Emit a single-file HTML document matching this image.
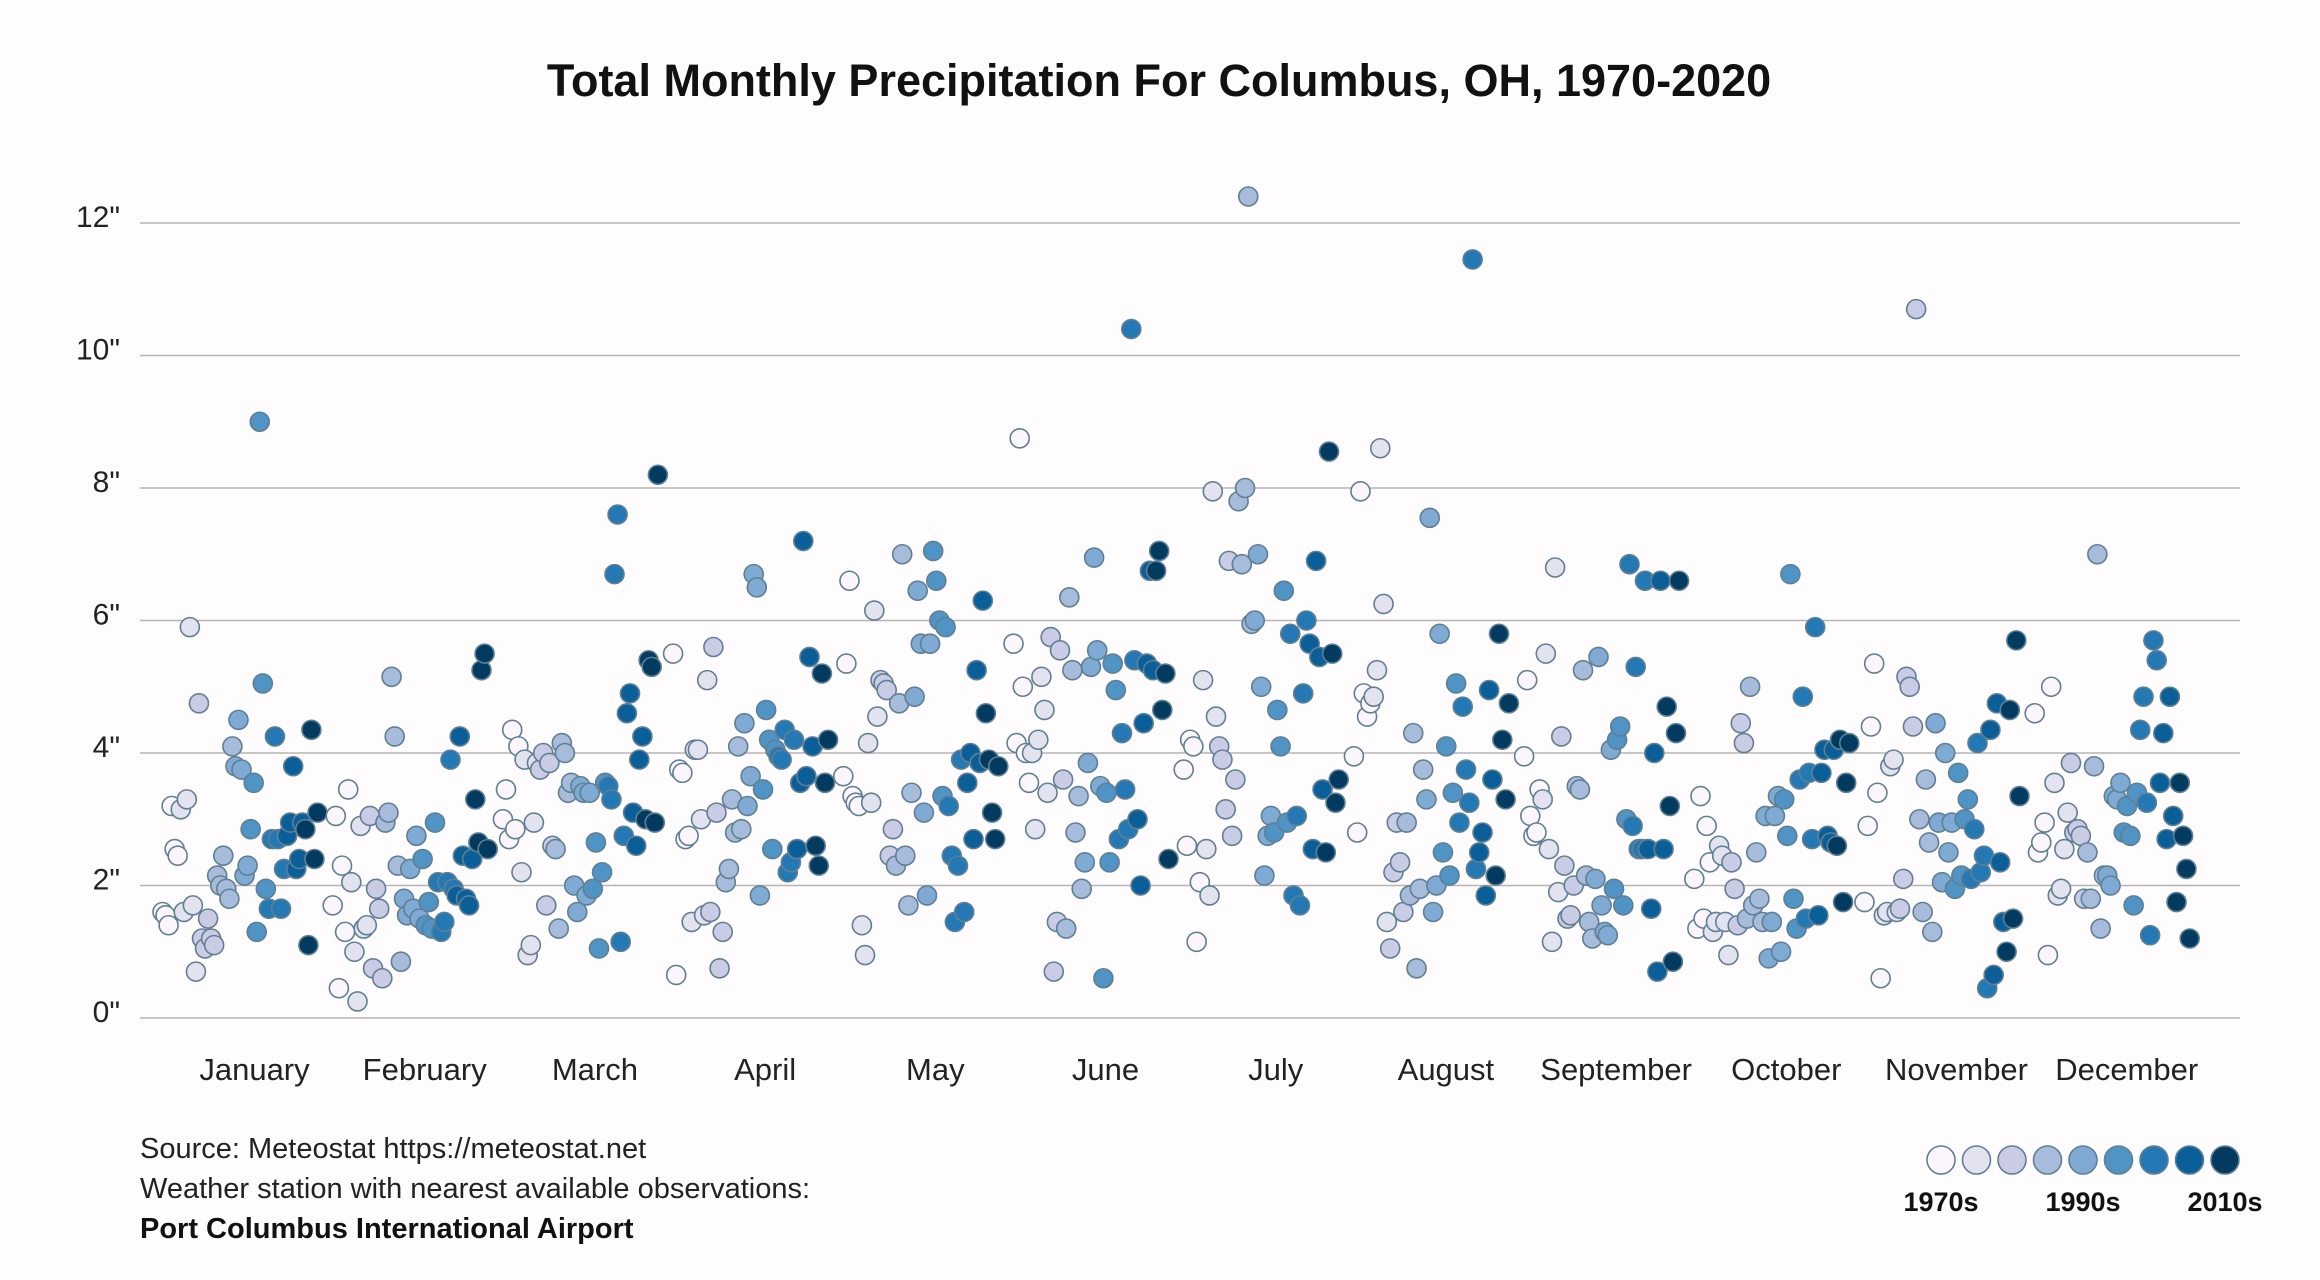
<!DOCTYPE html>
<html><head><meta charset="utf-8"><style>
body{margin:0;background:#fff;}
svg{display:block;font-family:"Liberation Sans",sans-serif;}
</style></head><body>
<svg id="chart" width="2320" height="1280" viewBox="0 0 2320 1280">
<rect width="2320" height="1280" fill="#fefcfd"/>
<text x="1159" y="96" text-anchor="middle" font-size="45" font-weight="bold" fill="#111">Total Monthly Precipitation For Columbus, OH, 1970-2020</text>
<g id="grid"></g>
<g id="ylabels"></g>
<g id="points"></g>
<g id="xlabels"></g>
<text x="140" y="1158" font-size="29" fill="#222">Source: Meteostat https://meteostat.net</text>
<text x="140" y="1198" font-size="29" fill="#222">Weather station with nearest available observations:</text>
<text x="140" y="1238" font-size="29" font-weight="bold" fill="#111">Port Columbus International Airport</text>
<g id="legend"></g>
</svg>
<script>
const months = ["January","February","March","April","May","June","July","August","September","October","November","December"];
const yTicks = [0,2,4,6,8,10,12];
const legendLabels = ["1970s","","1990s","","2010s"];
const colors = ['#fbf6fb','#e3e2ef','#c9cce4','#a7bcdb','#7eaad3','#4f94c4','#2479b4','#0a5f99','#023b5f'];
const jan = [1.6,1.55,1.4,3.2,2.55,2.45,3.15,1.6,3.3,5.9,1.7,0.7,4.75,1.2,1.05,1.5,1.2,1.1,2.15,2.0,2.45,1.95,1.8,4.1,3.8,4.5,3.75,2.15,2.3,2.85,3.55,1.3,9.0,5.05,1.95,1.65,2.7,4.25,2.7,1.65,2.25,2.75,2.95,3.8,2.25,2.4,2.95,2.85,1.1,4.35,2.4,3.1];
const feb = [1.7,3.05,0.45,2.3,1.3,3.45,2.05,1.0,0.25,2.9,1.35,1.4,3.05,0.75,1.95,1.65,0.6,2.95,3.1,5.15,4.25,2.3,0.85,1.8,1.55,2.25,1.65,2.75,1.5,2.4,1.4,1.75,1.35,2.95,2.05,1.3,1.45,2.05,3.9,1.95,1.85,4.25,2.45,1.8,1.7,2.4,3.3,2.65,5.25,5.5,2.55];
const mar = [3.0,3.45,2.7,4.35,2.85,4.1,2.2,3.9,0.95,1.1,2.95,3.85,3.75,4.0,1.7,3.85,2.6,2.55,1.35,4.15,4.0,3.4,3.55,2.0,1.6,3.5,3.4,1.85,3.4,1.95,2.65,1.05,2.2,3.55,3.5,3.3,6.7,7.6,1.15,2.75,4.6,4.9,3.1,2.6,3.9,4.25,3.0,5.4,5.3,2.95,8.2];
const apr = [5.5,0.65,3.75,3.7,2.7,2.75,1.45,4.05,4.05,3.0,1.55,5.1,1.6,5.6,3.1,0.75,1.3,2.05,2.25,3.3,2.8,4.1,2.85,4.45,3.2,3.65,6.7,6.5,1.85,3.45,4.65,4.2,2.55,4.05,3.95,3.9,4.35,2.2,2.35,4.2,2.55,3.55,7.2,3.65,5.45,4.1,2.6,2.3,5.2,3.55,4.2];
const may = [3.65,5.35,6.6,3.35,3.25,3.2,1.4,0.95,4.15,3.25,6.15,4.55,5.1,5.05,4.95,2.45,2.85,2.3,4.75,7.0,2.45,1.7,3.4,4.85,6.45,5.65,3.1,1.85,5.65,7.05,6.6,6.0,3.35,5.9,3.2,2.45,1.45,2.3,3.9,1.6,3.55,4.0,2.7,5.25,3.85,6.3,4.6,3.9,3.1,2.7,3.8];
const jun = [5.65,4.15,8.75,5.0,4.0,3.55,4.0,2.85,4.2,5.15,4.65,3.4,5.75,0.7,1.45,5.55,3.6,1.35,6.35,5.25,2.8,3.35,1.95,2.35,3.85,5.3,6.95,5.55,3.5,0.6,3.4,2.35,5.35,4.95,2.7,4.3,3.45,2.85,10.4,5.4,3.0,2.0,4.45,5.35,6.75,5.25,6.75,7.05,4.65,5.2,2.4];
const jul = [3.75,2.6,4.2,4.1,1.15,2.05,5.1,2.55,1.85,7.95,4.55,4.1,3.9,3.15,6.9,2.75,3.6,7.8,6.85,8.0,12.4,5.95,6.0,7.0,5.0,2.15,2.75,3.05,2.8,4.65,4.1,6.45,2.95,5.8,1.85,3.05,1.7,4.9,6.0,5.65,2.55,6.9,5.45,3.45,2.5,8.55,5.5,3.25,3.6];
const aug = [3.95,2.8,7.95,4.9,4.55,4.75,4.85,5.25,8.6,6.25,1.45,1.05,2.2,2.95,2.35,1.6,2.95,1.85,4.3,0.75,1.95,3.75,3.3,7.55,1.6,2.0,5.8,2.5,4.1,2.15,3.4,5.05,2.95,4.7,3.75,3.25,11.45,2.25,2.5,2.8,1.85,4.95,3.6,2.15,5.8,4.2,3.3,4.75];
const sep = [3.95,5.1,3.05,2.75,2.8,3.45,3.3,5.5,2.55,1.15,6.8,1.9,4.25,2.3,1.5,1.55,2.0,3.5,3.45,5.25,2.15,1.45,1.2,2.1,5.45,1.7,1.3,1.25,4.05,1.95,4.2,4.4,1.7,3.0,6.85,2.9,5.3,2.55,2.55,6.6,2.55,1.65,4.0,0.7,6.6,2.55,4.7,3.2,0.85,4.3,6.6];
const oct = [2.1,1.35,3.35,1.5,2.9,2.35,1.3,1.45,2.6,2.45,1.45,0.95,2.35,1.95,1.4,4.45,4.15,1.5,5.0,1.7,2.5,1.8,1.45,3.05,0.9,1.45,3.05,3.35,1.0,3.3,2.75,6.7,1.8,1.35,3.6,4.85,1.5,3.7,2.7,5.9,1.55,3.7,4.05,2.75,2.65,4.05,2.6,4.2,1.75,3.55,4.15];
const nov = [1.75,2.9,4.4,5.35,3.4,0.6,1.55,1.6,3.8,3.9,1.6,1.65,2.1,5.15,5.0,4.4,10.7,3.0,1.6,3.6,2.65,1.3,4.45,2.95,2.05,4.0,2.5,2.95,1.95,3.7,2.15,3.0,3.3,2.1,2.85,4.15,2.2,2.45,0.45,4.35,0.65,4.75,2.35,1.45,1.0,4.65,1.5,5.7,3.35];
const dec = [4.6,2.5,2.65,2.95,0.95,5.0,3.55,1.85,1.95,2.55,3.1,3.85,2.8,2.85,2.75,1.8,2.5,1.8,3.8,7.0,1.35,2.15,2.15,2.0,3.35,3.3,3.55,2.8,3.2,2.75,1.7,3.4,4.35,4.85,3.25,1.25,5.7,5.4,3.55,4.3,2.7,4.85,3.05,1.75,3.55,2.75,2.25,1.2];
const series = [jan,feb,mar,apr,may,jun,jul,aug,sep,oct,nov,dec];

const NS="http://www.w3.org/2000/svg";
function mk(tag,attrs,parent){const e=document.createElementNS(NS,tag);for(const k in attrs)e.setAttribute(k,attrs[k]);parent.appendChild(e);return e;}
const yScale = v => 1018 - v*66.25;
const monthCenter = m => 254.5 + m*170.2;
const xScale = (m,i,n) => monthCenter(m) - 92 + i*(155/(n-1));

const grid=document.getElementById('grid'), yl=document.getElementById('ylabels');
yTicks.forEach(t=>{
  const l=mk('line',{x1:140,x2:2240,y1:yScale(t),y2:yScale(t),stroke:'#b5b5b5','stroke-width':1.5},grid);
  
  
  const tx=mk('text',{x:120,y:yScale(t)+4,'text-anchor':'end','font-size':30,fill:'#222'},yl);
  tx.textContent=t+'"';
  
  
});
const xl=document.getElementById('xlabels');
months.forEach((m,i)=>{
  const tx=mk('text',{x:monthCenter(i),y:1080,'text-anchor':'middle','font-size':31,fill:'#222'},xl);
  tx.textContent=m;
  
  
});
const pts=document.getElementById('points');
series.forEach((vals,m)=>{
  vals.forEach((v,i)=>{
    const bin=Math.min(8,Math.floor(i/vals.length*9));
    const c=mk('circle',{cx:xScale(m,i,vals.length),cy:yScale(v),r:9.5,fill:colors[bin],stroke:'#5f7f95','stroke-width':1.6},pts);
    
    
  });
});
const lg=document.getElementById('legend');
colors.forEach((c,i)=>{
  const e=mk('circle',{cx:1941+i*35.5,cy:1160,r:14,fill:c,stroke:'#5f7f95','stroke-width':1.6},lg);
  
  
});
legendLabels.forEach((t,i)=>{
  if(!t)return;
  const tx=mk('text',{x:1941+i*71,y:1211,'text-anchor':'middle','font-size':27,'font-weight':'bold',fill:'#111'},lg);
  tx.textContent=t;
  
  
});
</script>
</body></html>
